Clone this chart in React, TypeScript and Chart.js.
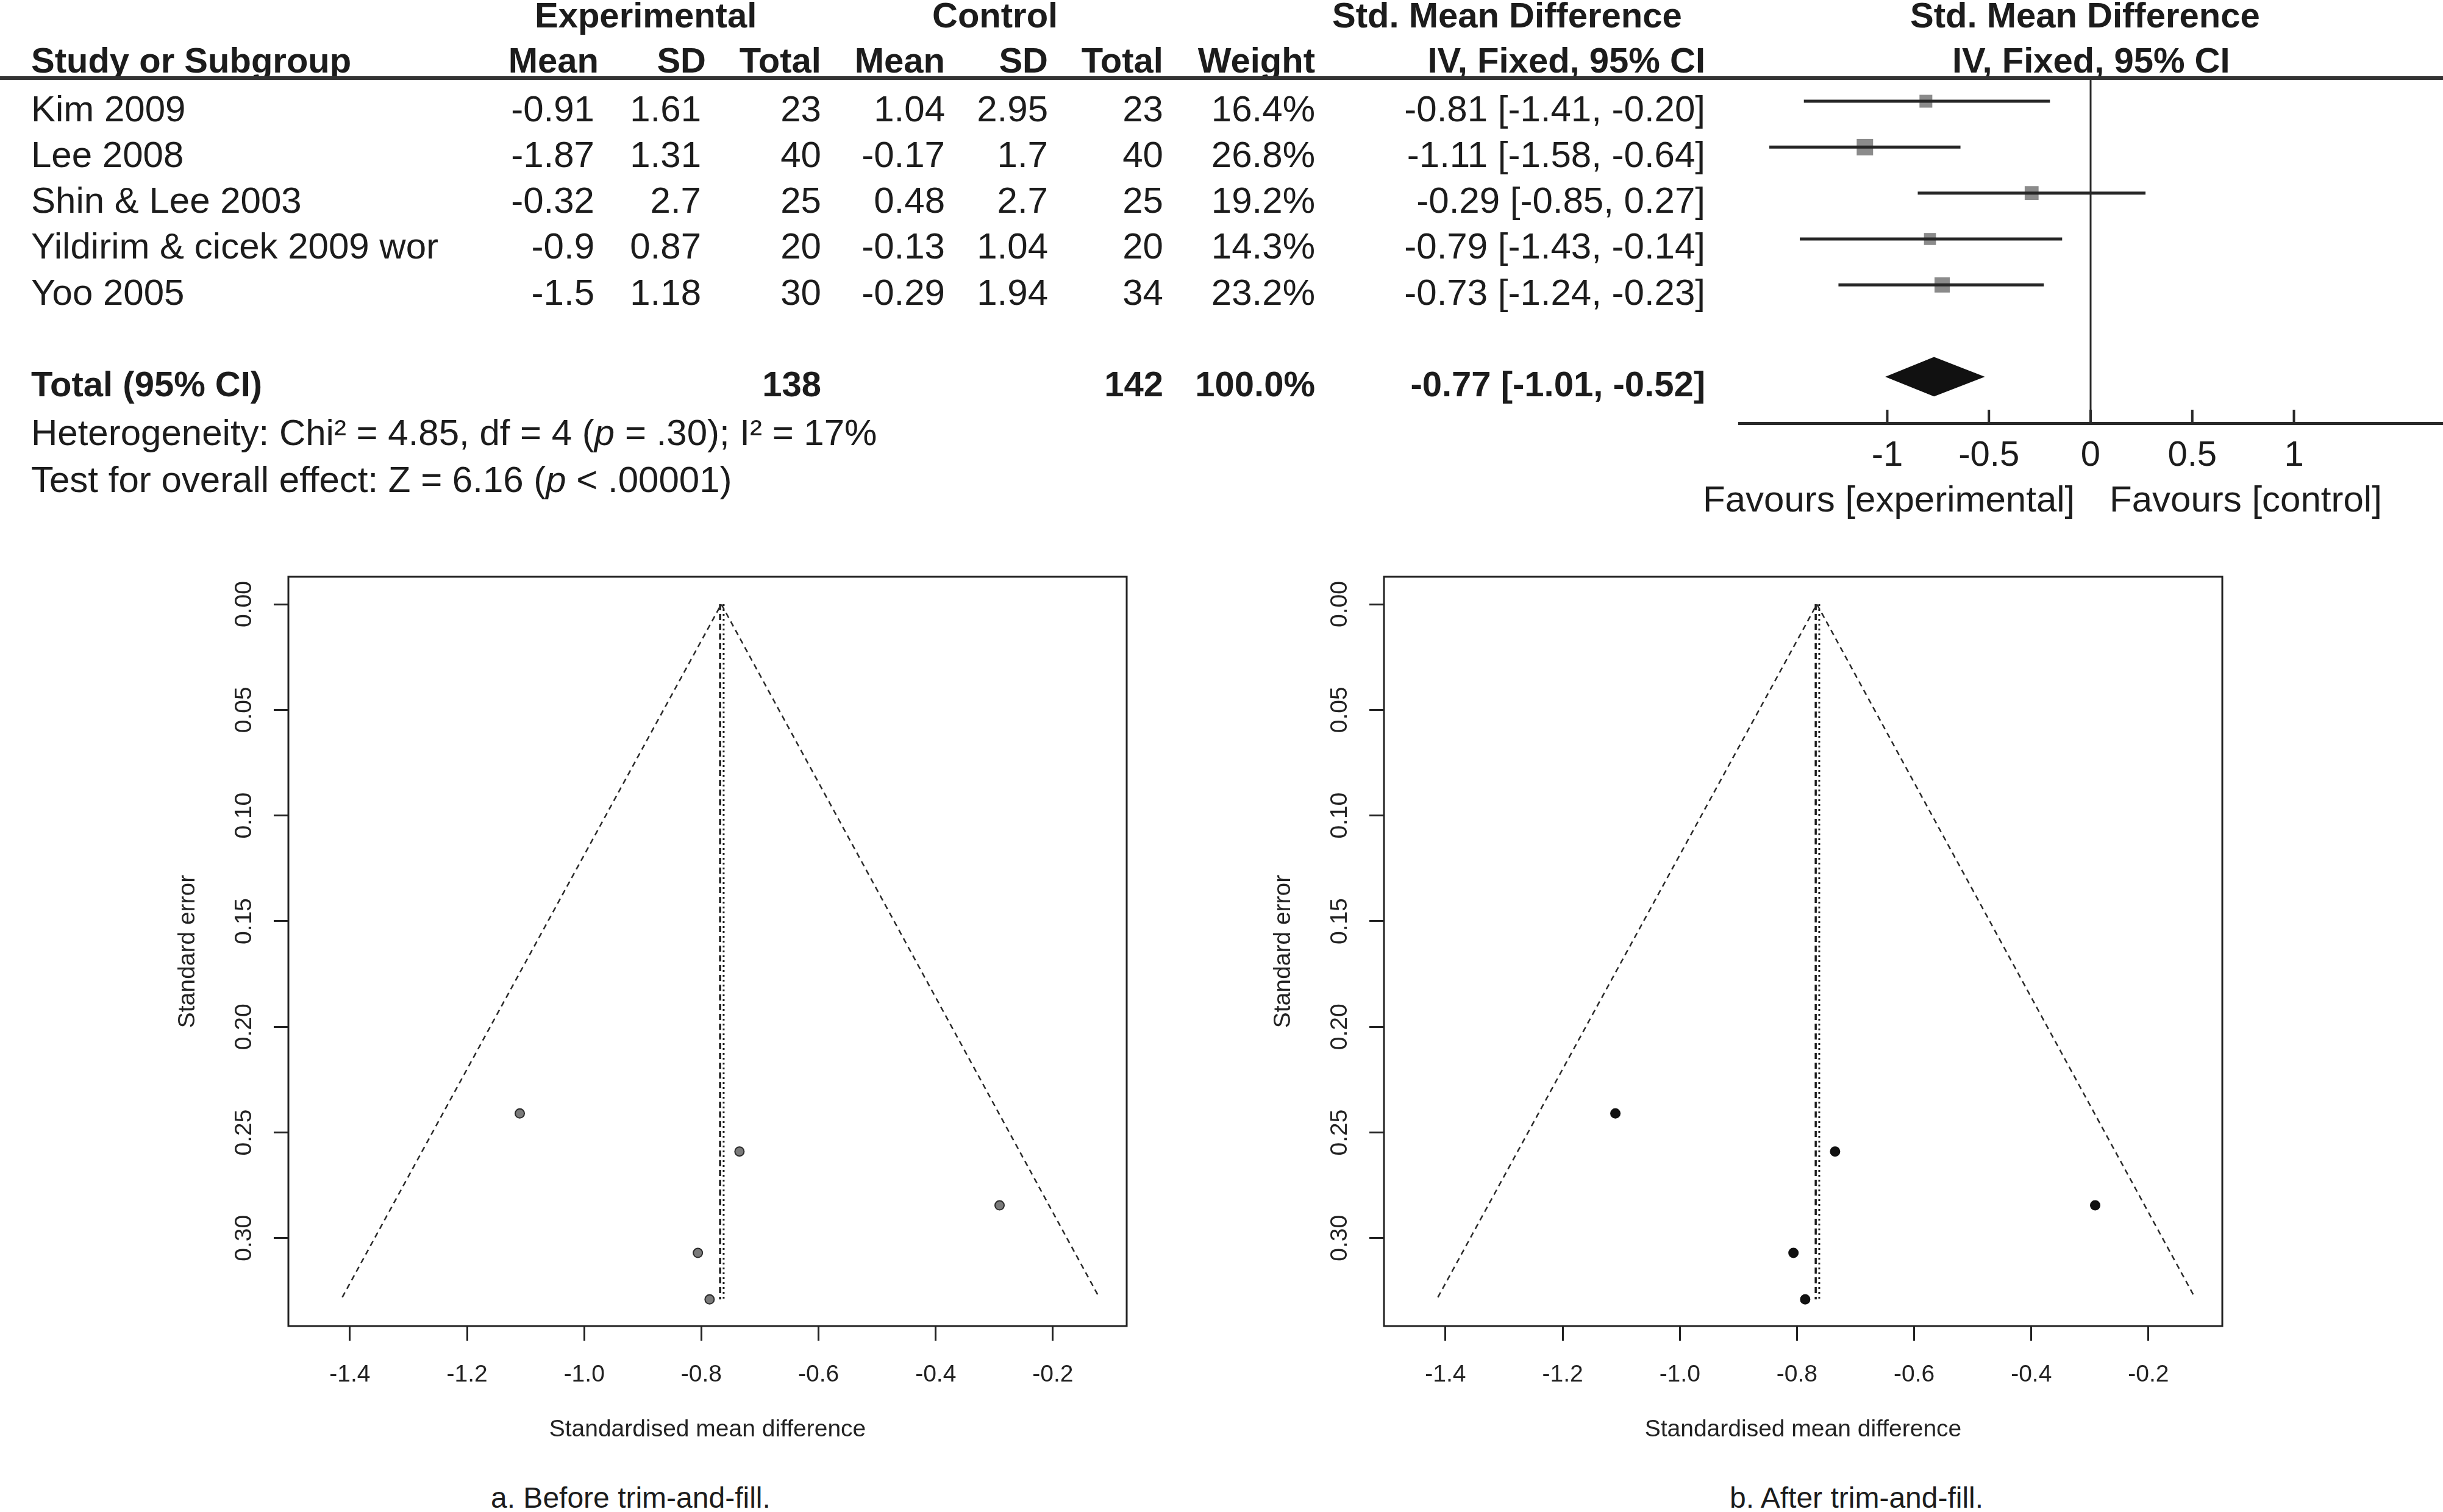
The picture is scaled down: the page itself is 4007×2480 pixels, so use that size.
import React, { useEffect, useRef } from 'react';
import { Chart, registerables } from 'chart.js';

Chart.register(...registerables);

const W = 4007;
const H = 2480;
const FONT = '"Liberation Sans", Arial, Helvetica, sans-serif';
const INK = '#1c1c1c';

// ---------------- Forest plot data ----------------
const studies = ['Kim 2009', 'Lee 2008', 'Shin & Lee 2003', 'Yildirim & cicek 2009 wor', 'Yoo 2005'];
const expMean = [-0.91, -1.87, -0.32, -0.9, -1.5];
const expSD = [1.61, 1.31, 2.7, 0.87, 1.18];
const expTotal = [23, 40, 25, 20, 30];
const ctlMean = [1.04, -0.17, 0.48, -0.13, -0.29];
const ctlSD = [2.95, 1.7, 2.7, 1.04, 1.94];
const ctlTotal = [23, 40, 25, 20, 34];
const weights = [16.4, 26.8, 19.2, 14.3, 23.2];
const smd = [-0.81, -1.11, -0.29, -0.79, -0.73];
const ciLow = [-1.41, -1.58, -0.85, -1.43, -1.24];
const ciHigh = [-0.2, -0.64, 0.27, -0.14, -0.23];
const totalExp = 138;
const totalCtl = 142;
const totalWeight = '100.0%';
const totalSMD = -0.77;
const totalLow = -1.01;
const totalHigh = -0.52;
const forestTicks = [-1, -0.5, 0, 0.5, 1];
const headLabels = ['Mean', 'SD', 'Total', 'Mean', 'SD', 'Total', 'Weight'];

// ---------------- Funnel plot data ----------------
const funnelSMD = [-0.806, -1.11, -0.291, -0.786, -0.735];
const funnelSE = [0.307, 0.241, 0.2845, 0.329, 0.259];
const funnelEdgeX = [-1.413, -0.766, -0.121];
const funnelEdgeY = [0.328, 0, 0.328];
const pooledDashed = -0.768;
const pooledDotted = -0.762;
const funnelSeMax = 0.329;
const funnelXTicks = [-1.4, -1.2, -1.0, -0.8, -0.6, -0.4, -0.2];
const funnelYTicks = [0, 0.05, 0.1, 0.15, 0.2, 0.25, 0.3];

// ---------------- layout constants ----------------
const rowBase = [200, 275, 350, 425, 501];
const dataRight = [975, 1150, 1347, 1550, 1719, 1908, 2157];
const headRight = [982, 1158, 1347, 1550, 1719, 1908, 2157];
const TOTAL_ROW = 6;
const F_YMIN = -0.465;
const F_YMAX = 7.01;

function fmt(v: number) {
  return String(v);
}

function T(props: any) {
  const { x, y, align = 'left', size = 60, bold = false, children } = props;
  const style: any = {
    position: 'absolute',
    top: y - 0.8465 * size,
    fontSize: size,
    lineHeight: `${size}px`,
    fontFamily: FONT,
    fontWeight: bold ? 700 : 400,
    whiteSpace: 'nowrap',
    color: INK,
  };
  if (align === 'left') style.left = x;
  else if (align === 'right') style.right = W - x;
  else {
    style.left = x;
    style.transform = 'translateX(-50%)';
  }
  return <div style={style}>{children}</div>;
}

function ChartBox(props: any) {
  const { left, top, width, height, makeConfig } = props;
  const ref = useRef<HTMLCanvasElement>(null);
  useEffect(() => {
    const chart = new Chart(ref.current as HTMLCanvasElement, makeConfig());
    return () => chart.destroy();
  }, []);
  return (
    <div style={{ position: 'absolute', left, top, width, height }}>
      <canvas ref={ref} width={width} height={height} style={{ width, height, display: 'block' }} />
    </div>
  );
}

const forestPlugin = {
  id: 'forestExtras',
  afterDatasetsDraw(chart: any) {
    const { ctx, chartArea, scales } = chart;
    const x = scales.x;
    const y = scales.y;
    ctx.save();
    ctx.strokeStyle = '#2a2a2a';
    ctx.lineWidth = 4;
    for (const v of forestTicks) {
      const px = x.getPixelForValue(v);
      ctx.beginPath();
      ctx.moveTo(px, chartArea.bottom);
      ctx.lineTo(px, chartArea.bottom - 22);
      ctx.stroke();
    }
    const cy = y.getPixelForValue(TOTAL_ROW);
    const h = Math.abs(y.getPixelForValue(TOTAL_ROW + 0.43) - cy);
    ctx.fillStyle = '#111';
    ctx.beginPath();
    ctx.moveTo(x.getPixelForValue(totalLow), cy);
    ctx.lineTo(x.getPixelForValue(totalSMD), cy - h);
    ctx.lineTo(x.getPixelForValue(totalHigh), cy);
    ctx.lineTo(x.getPixelForValue(totalSMD), cy + h);
    ctx.closePath();
    ctx.fill();
    ctx.restore();
  },
};

function forestConfig(): any {
  const ciSets = studies.map((_s, i) => ({
    data: [
      { x: ciLow[i], y: i },
      { x: ciHigh[i], y: i },
    ],
    showLine: true,
    borderColor: '#262626',
    borderWidth: 5,
    pointRadius: 0,
  }));
  return {
    type: 'scatter',
    data: {
      datasets: [
        {
          data: [
            { x: 0, y: F_YMIN },
            { x: 0, y: F_YMAX },
          ],
          showLine: true,
          borderColor: '#2a2a2a',
          borderWidth: 3,
          pointRadius: 0,
        },
        ...ciSets,
        {
          data: smd.map((v, i) => ({ x: v, y: i })),
          pointStyle: 'rect',
          pointRadius: weights.map((w) => (5.2 * Math.sqrt(w)) / (2 * Math.SQRT1_2)),
          backgroundColor: '#8b8b8b',
          borderWidth: 0,
        },
      ],
    },
    options: {
      animation: false,
      responsive: false,
      devicePixelRatio: 1,
      layout: { padding: 0, autoPadding: false },
      plugins: { legend: { display: false }, tooltip: { enabled: false } },
      events: [],
      scales: {
        x: {
          type: 'linear',
          min: -1.733,
          max: 1.733,
          afterBuildTicks: (s: any) => {
            s.ticks = forestTicks.map((v) => ({ value: v }));
          },
          ticks: {
            callback: (v: number) => String(v),
            font: { family: FONT, size: 58 },
            color: INK,
            padding: 19,
            autoSkip: false,
            maxRotation: 0,
          },
          grid: { display: false, drawTicks: false },
          border: { display: true, color: '#2a2a2a', width: 5 },
          afterFit: (s: any) => {
            s.height = 140;
          },
        },
        y: { type: 'linear', display: false, reverse: true, min: F_YMIN, max: F_YMAX },
      },
    },
    plugins: [forestPlugin],
  };
}

const boxPlugin = {
  id: 'rbox',
  beforeDatasetsDraw(chart: any) {
    const { ctx, chartArea: a } = chart;
    ctx.save();
    ctx.strokeStyle = '#222';
    ctx.lineWidth = 3;
    ctx.strokeRect(a.left, a.top, a.right - a.left, a.bottom - a.top);
    ctx.restore();
  },
};

function funnelConfig(pointFill: string, pointBorder: string): any {
  const tickFont = { family: FONT, size: 39 };
  const gridOpts = {
    display: true,
    drawOnChartArea: false,
    drawTicks: true,
    tickLength: 24,
    lineWidth: 3,
    tickWidth: 3,
    color: '#222',
    tickColor: '#222',
  };
  return {
    type: 'scatter',
    data: {
      datasets: [
        {
          data: funnelEdgeX.map((x, i) => ({ x, y: funnelEdgeY[i] })),
          showLine: true,
          borderColor: '#2a2a2a',
          borderWidth: 2.5,
          borderDash: [9, 7],
          pointRadius: 0,
        },
        {
          data: [
            { x: pooledDashed, y: 0 },
            { x: pooledDashed, y: funnelSeMax },
          ],
          showLine: true,
          borderColor: '#1e1e1e',
          borderWidth: 3.5,
          borderDash: [10, 6],
          pointRadius: 0,
        },
        {
          data: [
            { x: pooledDotted, y: 0 },
            { x: pooledDotted, y: funnelSeMax },
          ],
          showLine: true,
          borderColor: '#1e1e1e',
          borderWidth: 3,
          borderDash: [3, 5],
          pointRadius: 0,
        },
        {
          data: funnelSMD.map((x, i) => ({ x, y: funnelSE[i] })),
          pointStyle: 'circle',
          pointRadius: 7.5,
          backgroundColor: pointFill,
          borderColor: pointBorder,
          borderWidth: 2,
        },
      ],
    },
    options: {
      animation: false,
      responsive: false,
      devicePixelRatio: 1,
      events: [],
      layout: { padding: { top: 60, right: 20, left: 0, bottom: 0 }, autoPadding: false },
      plugins: { legend: { display: false }, tooltip: { enabled: false } },
      scales: {
        x: {
          type: 'linear',
          min: -1.505,
          max: -0.074,
          afterBuildTicks: (s: any) => {
            s.ticks = funnelXTicks.map((v) => ({ value: v }));
          },
          ticks: {
            callback: (v: number) => v.toFixed(1),
            font: tickFont,
            color: '#222',
            padding: 33,
            autoSkip: false,
            maxRotation: 0,
          },
          grid: gridOpts,
          border: { display: false },
          title: {
            display: true,
            text: 'Standardised mean difference',
            font: tickFont,
            color: '#222',
            padding: 0,
          },
          afterFit: (s: any) => {
            s.height = 194;
          },
        },
        y: {
          type: 'linear',
          reverse: true,
          min: -0.013,
          max: 0.3416,
          afterBuildTicks: (s: any) => {
            s.ticks = funnelYTicks.map((v) => ({ value: v }));
          },
          ticks: {
            callback: (v: number) => v.toFixed(2),
            font: tickFont,
            color: '#222',
            padding: 10,
            minRotation: 90,
            maxRotation: 90,
            crossAlign: 'center',
            autoSkip: false,
          },
          grid: gridOpts,
          border: { display: false },
          title: {
            display: true,
            text: 'Standard error',
            font: tickFont,
            color: '#222',
            padding: 0,
          },
          afterFit: (s: any) => {
            s.width = 188;
          },
        },
      },
    },
    plugins: [boxPlugin],
  };
}

export default function App() {
  const rows = studies.map((name, i) => {
    const vals = [expMean[i], expSD[i], expTotal[i], ctlMean[i], ctlSD[i], ctlTotal[i]];
    const y = rowBase[i];
    return (
      <React.Fragment key={name}>
        <T x={51} y={y}>{name}</T>
        {vals.map((v, j) => (
          <T key={j} x={dataRight[j]} y={y} align="right">
            {fmt(v)}
          </T>
        ))}
        <T x={dataRight[6]} y={y} align="right">
          {weights[i].toFixed(1)}%
        </T>
        <T x={2797} y={y} align="right">
          {smd[i].toFixed(2)} [{ciLow[i].toFixed(2)}, {ciHigh[i].toFixed(2)}]
        </T>
      </React.Fragment>
    );
  });

  return (
    <div
      style={{
        position: 'absolute',
        left: 0,
        top: 0,
        width: W,
        height: H,
        background: '#fff',
        overflow: 'hidden',
      }}
    >
      {/* header row 1 */}
      <T x={877} y={45} size={58} bold>Experimental</T>
      <T x={1529} y={45} size={58} bold>Control</T>
      <T x={2185} y={45} size={58} bold>Std. Mean Difference</T>
      <T x={3133} y={45} size={58} bold>Std. Mean Difference</T>
      {/* header row 2 */}
      <T x={51} y={119} size={58} bold>Study or Subgroup</T>
      {headLabels.map((h, j) => (
        <T key={j} x={headRight[j]} y={119} size={58} bold align="right">
          {h}
        </T>
      ))}
      <T x={2797} y={119} size={58} bold align="right">IV, Fixed, 95% CI</T>
      <T x={3202} y={119} size={58} bold>IV, Fixed, 95% CI</T>
      <div style={{ position: 'absolute', left: 0, top: 125, width: W, height: 6, background: '#333' }} />

      {rows}

      {/* total row */}
      <T x={51} y={650} size={58} bold>Total (95% CI)</T>
      <T x={dataRight[2]} y={650} size={58} bold align="right">{totalExp}</T>
      <T x={dataRight[5]} y={650} size={58} bold align="right">{totalCtl}</T>
      <T x={dataRight[6]} y={650} size={58} bold align="right">{totalWeight}</T>
      <T x={2797} y={650} size={58} bold align="right">
        {totalSMD.toFixed(2)} [{totalLow.toFixed(2)}, {totalHigh.toFixed(2)}]
      </T>
      <T x={51} y={731}>
        Heterogeneity: Chi² = 4.85, df = 4 (<i>p</i> = .30); I² = 17%
      </T>
      <T x={51} y={808}>
        Test for overall effect: Z = 6.16 (<i>p</i> &lt; .00001)
      </T>

      <T x={2793} y={840}>Favours [experimental]</T>
      <T x={3460} y={840}>Favours [control]</T>

      <ChartBox left={2851} top={131} width={1156} height={703} makeConfig={forestConfig} />

      <ChartBox left={285} top={886} width={1583} height={1483} makeConfig={() => funnelConfig('#7a7a7a', '#2a2a2a')} />
      <ChartBox left={2082} top={886} width={1583} height={1483} makeConfig={() => funnelConfig('#111', '#111')} />

      <T x={805} y={2474} size={48}>a. Before trim-and-fill.</T>
      <T x={2837} y={2474} size={48}>b. After trim-and-fill.</T>
    </div>
  );
}
